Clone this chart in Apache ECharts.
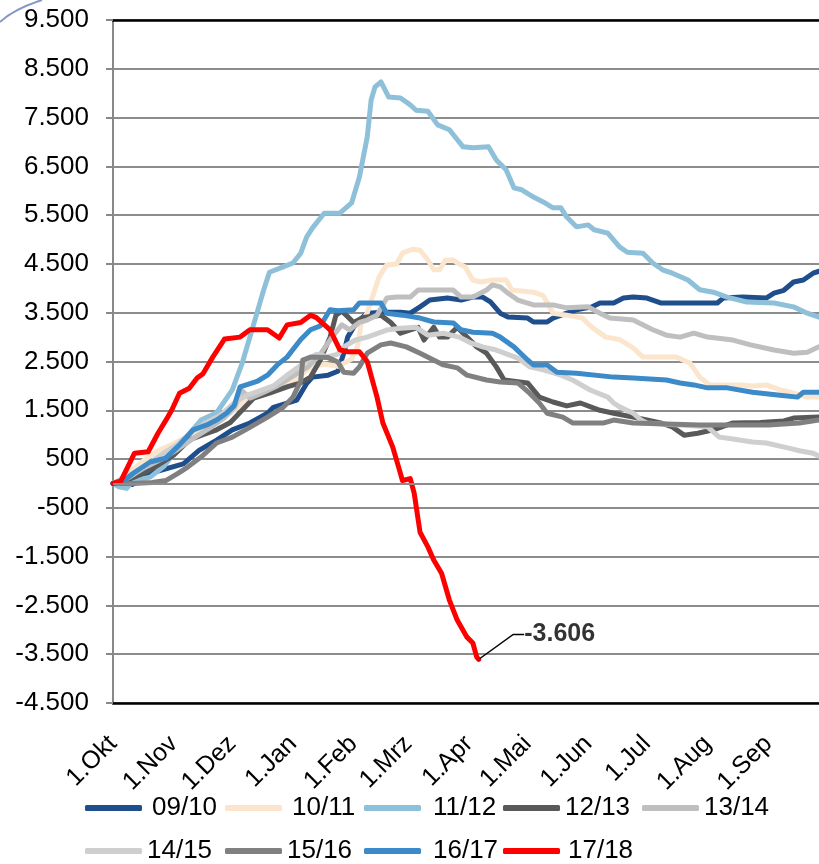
<!DOCTYPE html>
<html><head><meta charset="utf-8">
<script src="https://cdn.jsdelivr.net/npm/echarts@6/dist/echarts.min.js"></script>
<style>html,body{margin:0;padding:0;background:#fff}#c{width:819px;height:864px}</style>
</head><body><div id="c"></div>
<script>
// ---- data ----
const seriesNames = ['09/10','10/11','11/12','12/13','13/14','14/15','15/16','16/17','17/18'];
const monthDays = [0,31,61,92,123,151,182,212,243,273,304,335];
const monthLabels = ['1.Okt','1.Nov','1.Dez','1.Jan','1.Feb','1.Mrz','1.Apr','1.Mai','1.Jun','1.Jul','1.Aug','1.Sep'];
const yMin = -4500, yMax = 9500, yStep = 1000;
const xMax = 361;

// [day since 1 Oct, value]
const s0910 = [[0,0],[10,-20],[19,210],[36,400],[44,680],[53,890],[61,1100],[70,1240],[79,1440],[82,1560],[94,1710],[99,2050],[102,2180],[110,2220],[115,2300],[118,2670],[120,3000],[123,3200],[126,3350],[130,3490],[138,3510],[147,3510],[152,3490],[157,3620],[162,3760],[171,3800],[178,3760],[184,3820],[189,3820],[193,3720],[198,3490],[202,3410],[212,3390],[215,3310],[222,3310],[225,3390],[232,3490],[237,3560],[245,3620],[249,3700],[256,3700],[261,3800],[266,3820],[273,3800],[280,3700],[290,3700],[309,3700],[312,3800],[322,3820],[334,3800],[338,3900],[343,3960],[348,4130],[353,4170],[358,4310],[361,4350]];
const s1011 = [[0,0],[8,200],[15,450],[22,650],[30,800],[40,1000],[48,1150],[55,1300],[62,1500],[70,1750],[78,1900],[85,1950],[92,2100],[100,2350],[108,2450],[115,2400],[122,2550],[125,2800],[127,3300],[130,3500],[136,4230],[140,4480],[145,4500],[148,4720],[153,4800],[157,4780],[161,4580],[164,4380],[167,4380],[170,4580],[174,4580],[176,4520],[180,4440],[184,4170],[188,4130],[194,4170],[201,4170],[204,3965],[215,3920],[220,3850],[225,3490],[232,3450],[240,3390],[245,3200],[252,3000],[259,2950],[266,2780],[271,2590],[276,2590],[288,2590],[295,2470],[300,2180],[305,2020],[312,2020],[321,2020],[327,2000],[334,2020],[341,1920],[348,1850],[355,1770],[361,1770]];
const s1112 = [[0,0],[3,-70],[7,-100],[10,50],[19,130],[26,350],[35,830],[45,1300],[53,1450],[61,1920],[66,2460],[73,3410],[77,3960],[80,4330],[87,4440],[92,4520],[96,4720],[99,5050],[102,5240],[108,5540],[116,5540],[122,5750],[126,6280],[130,7100],[132,7860],[134,8130],[137,8230],[141,7920],[147,7900],[152,7760],[155,7650],[161,7630],[166,7350],[172,7250],[179,6900],[184,6880],[192,6900],[196,6630],[201,6430],[205,6060],[209,6020],[215,5870],[220,5770],[225,5650],[229,5650],[232,5460],[237,5260],[243,5300],[246,5200],[253,5130],[259,4850],[263,4740],[271,4720],[276,4520],[281,4380],[286,4310],[294,4170],[300,3970],[307,3920],[314,3820],[324,3720],[338,3700],[348,3620],[355,3490],[361,3410]];
const s1213 = [[0,0],[8,80],[15,200],[22,350],[31,580],[39,890],[46,1000],[53,1100],[60,1250],[66,1500],[72,1750],[80,1850],[89,1980],[96,2060],[101,2180],[106,2530],[111,3000],[114,3450],[117,3530],[120,3420],[123,3300],[128,3400],[137,3450],[142,3300],[147,3080],[152,3150],[156,3200],[159,2940],[164,3200],[167,3000],[171,3000],[176,3200],[181,3000],[186,2800],[191,2670],[196,2390],[200,2120],[212,2060],[218,1770],[225,1670],[232,1590],[239,1650],[249,1500],[256,1440],[266,1360],[273,1300],[280,1240],[286,1160],[292,990],[299,1030],[307,1100],[317,1240],[331,1250],[343,1280],[348,1340],[361,1360]];
const s1314 = [[0,0],[8,120],[15,300],[25,500],[33,700],[42,950],[50,1150],[57,1350],[62,1550],[66,1900],[70,1750],[76,1850],[84,2000],[92,2200],[100,2400],[106,2650],[112,3000],[117,3250],[121,3150],[126,3300],[130,3350],[135,3450],[140,3800],[145,3820],[152,3820],[156,3965],[174,3965],[178,3820],[184,3820],[191,3965],[194,4070],[198,4030],[202,3900],[207,3760],[215,3660],[225,3660],[232,3600],[243,3620],[249,3490],[254,3390],[266,3350],[276,3150],[283,3040],[290,3000],[297,3080],[304,3000],[317,2940],[326,2840],[338,2735],[348,2670],[355,2690],[361,2800]];
const s1415 = [[0,0],[8,150],[16,350],[25,600],[33,800],[40,1050],[48,1250],[55,1400],[62,1650],[68,1800],[75,1900],[82,2000],[90,2250],[97,2450],[104,2650],[110,2600],[115,2650],[118,2800],[124,2940],[130,3000],[140,3145],[147,3180],[155,3200],[161,3040],[169,3080],[177,3000],[183,2880],[189,2800],[196,2735],[207,2570],[213,2390],[220,2330],[229,2220],[235,2120],[244,1915],[253,1770],[256,1650],[259,1570],[266,1440],[270,1300],[273,1240],[280,1220],[290,1200],[304,1160],[310,950],[317,910],[327,850],[334,830],[345,730],[351,670],[358,620],[361,560]];
const s1516 = [[0,0],[10,0],[20,20],[27,60],[33,200],[38,330],[45,540],[53,830],[61,950],[70,1150],[79,1360],[87,1560],[92,1770],[96,2100],[97,2530],[101,2590],[110,2580],[115,2490],[118,2280],[123,2260],[126,2390],[130,2670],[137,2840],[142,2880],[150,2800],[157,2670],[169,2430],[176,2370],[181,2220],[191,2120],[198,2080],[207,2060],[213,1850],[218,1650],[222,1440],[230,1360],[235,1240],[251,1240],[256,1300],[266,1240],[300,1200],[335,1200],[351,1240],[361,1300]];
const s1617 = [[0,0],[7,100],[10,200],[19,440],[27,520],[34,790],[41,1100],[48,1200],[53,1300],[58,1440],[62,1600],[65,1980],[74,2100],[79,2220],[84,2430],[89,2590],[96,2950],[101,3150],[106,3230],[111,3560],[115,3540],[123,3560],[126,3700],[137,3700],[140,3490],[148,3450],[157,3390],[164,3310],[174,3290],[178,3150],[184,3100],[194,3080],[198,3000],[205,2800],[212,2530],[215,2430],[222,2430],[227,2280],[237,2260],[256,2180],[266,2160],[283,2120],[290,2060],[297,2020],[304,1960],[314,1960],[327,1870],[341,1810],[350,1770],[353,1870],[361,1870]];
const s1718 = [[0,0],[4,50],[11,620],[18,650],[23,1030],[28,1360],[30,1500],[34,1850],[39,1950],[43,2160],[46,2250],[51,2590],[57,2960],[65,3000],[70,3150],[79,3150],[85,2980],[89,3250],[96,3300],[101,3450],[104,3400],[111,3150],[116,2740],[120,2700],[126,2700],[130,2500],[135,1770],[138,1240],[143,750],[146,340],[148,60],[152,100],[154,-200],[157,-1000],[161,-1300],[164,-1570],[168,-1840],[172,-2390],[176,-2800],[181,-3150],[184,-3270],[186,-3560],[187,-3606]];

const allData = [s0910,s1011,s1112,s1213,s1314,s1415,s1516,s1617,s1718];
const colors = ['#1F4E8C','#FBE5CD','#8FC0DA','#595959','#BFBFBF','#CFCFCF','#808080','#3C8AC8','#FF0000'];

// ---- helpers ----
function fmt(v){
  const s = Math.abs(Math.round(v)).toString().replace(/\B(?=(\d{3})+(?!\d))/g,'.');
  return (v<0?'-':'') + s;
}
const FONT = '"Liberation Sans", Arial, sans-serif';

const legendX = [85,225,364,503,642,85,225,364,503];
const legendTop = [795,795,795,795,795,838,838,838,838];
const legendPad = [5,5,7,0,0,0,0,7,3];

const chart = echarts.init(document.getElementById('c'), null, {renderer:'canvas'});
const last = s1718[s1718.length-1];

const series = seriesNames.map((n,i)=>({
  name:n, type:'line', data:allData[i], symbol:'none', showSymbol:false,
  lineStyle:{color:colors[i], width:5, cap:'round', join:'round'},
  itemStyle:{color:colors[i]}, animation:false, silent:true,
  markLine: i===0 ? {silent:true, symbol:['none','none'], label:{show:false},
    lineStyle:{color:'#8c8c8c', width:2, type:'solid'}, data:[{yAxis:0}], animation:false} : undefined
}));
series.push({
  name:'anno', type:'scatter', data:[last], symbolSize:3, itemStyle:{color:'#d00000'},
  silent:true, animation:false, z:5,
  label:{show:true, position:'right', distance:4, formatter:p=>fmt(p.value[1]),
    fontFamily:FONT, fontWeight:'bold', fontSize:25, color:'#000', padding:[0,0,0,10]},
  labelLayout:{dx:30, dy:-25},
  labelLine:{show:true, length2:11, lineStyle:{color:'#000', width:1.5}}
});

const option = {
  backgroundColor:'#fff',
  animation:false,
  textStyle:{fontFamily:FONT},
  graphic:[{type:'bezierCurve', shape:{x1:0,y1:22,cpx1:14,cpy1:9,x2:42,y2:0},
    style:{stroke:'#8496c6', lineWidth:2, fill:null}}],
  grid:{left:113, right:0, top:20, bottom:161},
  legend: seriesNames.map((n,i)=>({
    data:[n], left:legendX[i], top:legendTop[i], padding:0, icon:'roundRect',
    itemWidth:57, itemHeight:6, selectedMode:false,
    textStyle:{fontFamily:FONT, fontSize:26, color:'#000', padding:[0,0,0,legendPad[i]]}
  })),
  xAxis:[{
    type:'value', min:0, max:xMax, position:'bottom',
    axisLine:{show:true, onZero:false, lineStyle:{color:'#000', width:2.5}},
    axisTick:{show:false}, splitLine:{show:false},
    axisLabel:{customValues:monthDays, formatter:v=>monthLabels[monthDays.indexOf(v)],
      rotate:45, margin:37, fontSize:25, color:'#000', fontFamily:FONT}
  },{
    type:'value', min:0, max:xMax, position:'top',
    axisLine:{show:true, onZero:false, lineStyle:{color:'#000', width:2.5}},
    axisTick:{show:false}, axisLabel:{show:false}, splitLine:{show:false}
  }],
  yAxis:{
    type:'value', min:yMin, max:yMax, interval:yStep,
    axisLine:{show:true, lineStyle:{color:'#888', width:2}},
    axisTick:{show:true, length:7, lineStyle:{color:'#888', width:2}},
    axisLabel:{formatter:fmt, fontSize:26, color:'#000', margin:24, fontFamily:FONT},
    splitLine:{show:true, lineStyle:{color:'#8c8c8c', width:2}}
  },
  series
};
chart.setOption(option);
</script></body></html>
